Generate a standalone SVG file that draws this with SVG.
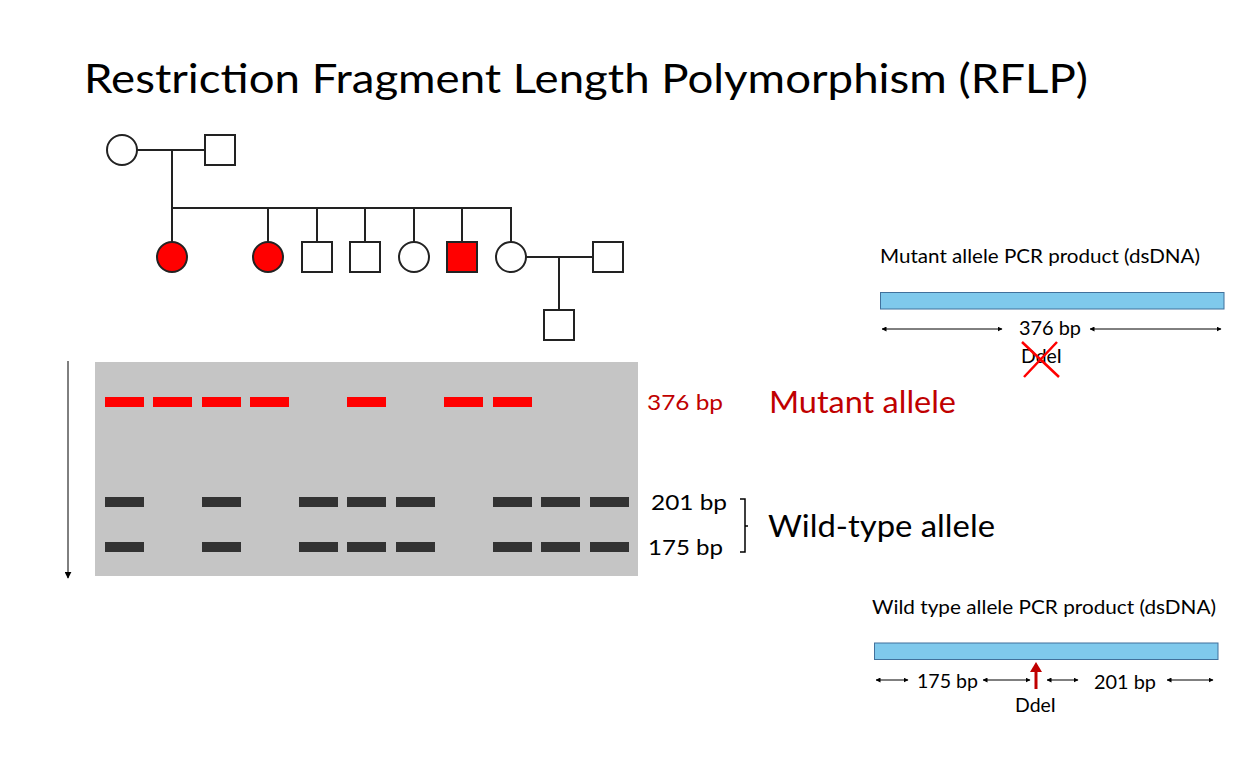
<svg xmlns="http://www.w3.org/2000/svg" width="1236" height="783" viewBox="0 0 1236 783">
<defs>
<style>
.ped{fill:#fff;stroke:#222;stroke-width:2}
.aff{fill:#ff0000;stroke:#222;stroke-width:2}
.ln{stroke:#222;stroke-width:2;fill:none}
.rb{fill:#ff0000}
.db{fill:#333}
.bar{fill:#7fc9ec;stroke:#41719c;stroke-width:1}
.av{font-family:Lato,"Open Sans",sans-serif}
.cb{font-family:Lato,"Liberation Sans",sans-serif;font-size:19px;fill:#000}
.dim{stroke:#000;stroke-width:1;fill:none;marker-start:url(#ah);marker-end:url(#ah)}
</style>
<marker id="ah" viewBox="0 0 10 10" refX="9" refY="5" markerWidth="5" markerHeight="5" orient="auto-start-reverse" markerUnits="userSpaceOnUse"><path d="M0,0 L10,5 L0,10 z" fill="#000"/></marker>
<marker id="gelArrow" viewBox="0 0 10 10" refX="9" refY="5" markerWidth="7" markerHeight="7" orient="auto" markerUnits="userSpaceOnUse"><path d="M0,0 L10,5 L0,10 z" fill="#000"/></marker>
</defs>
<rect width="1236" height="783" fill="#fff"/>
<text id="title" class="av" x="84" y="93" font-size="40" textLength="1004" lengthAdjust="spacingAndGlyphs" fill="#000">Restriction Fragment Length Polymorphism (RFLP)</text>

<g id="connectors">
<line class="ln" x1="137" y1="150" x2="205" y2="150"/>
<line class="ln" x1="172" y1="150" x2="172" y2="208"/>
<line class="ln" x1="171" y1="208" x2="512" y2="208"/>
<line class="ln" x1="172" y1="208" x2="172" y2="242"/>
<line class="ln" x1="268" y1="208" x2="268" y2="242"/>
<line class="ln" x1="317" y1="208" x2="317" y2="242"/>
<line class="ln" x1="365" y1="208" x2="365" y2="242"/>
<line class="ln" x1="414" y1="208" x2="414" y2="242"/>
<line class="ln" x1="462" y1="208" x2="462" y2="242"/>
<line class="ln" x1="511" y1="208" x2="511" y2="242"/>
<line class="ln" x1="526" y1="257" x2="593" y2="257"/>
<line class="ln" x1="559" y1="257" x2="559" y2="310"/>
</g>

<g id="p-gm"><circle class="ped" cx="122" cy="150" r="15"/></g>
<g id="p-gf"><rect class="ped" x="205" y="135" width="30" height="30"/></g>
<g id="p-c1"><circle class="aff" cx="172" cy="257" r="15"/></g>
<g id="p-c2"><circle class="aff" cx="268" cy="257" r="15"/></g>
<g id="p-c3"><rect class="ped" x="302" y="242" width="30" height="30"/></g>
<g id="p-c4"><rect class="ped" x="350" y="242" width="30" height="30"/></g>
<g id="p-c5"><circle class="ped" cx="414" cy="257" r="15"/></g>
<g id="p-c6"><rect class="aff" x="447" y="242" width="30" height="30"/></g>
<g id="p-c7"><circle class="ped" cx="511" cy="257" r="15"/></g>
<g id="p-sp"><rect class="ped" x="593" y="242" width="30" height="30"/></g>
<g id="p-gc"><rect class="ped" x="544" y="310" width="30" height="30"/></g>

<g id="gel">
<rect x="95" y="362" width="543" height="214" fill="#c5c5c5"/>
<g class="rb">
<rect x="105" y="397" width="39" height="10"/>
<rect x="153" y="397" width="39" height="10"/>
<rect x="202" y="397" width="39" height="10"/>
<rect x="250" y="397" width="39" height="10"/>
<rect x="347" y="397" width="39" height="10"/>
<rect x="444" y="397" width="39" height="10"/>
<rect x="493" y="397" width="39" height="10"/>
</g>
<g class="db">
<rect x="105" y="497" width="39" height="10"/>
<rect x="202" y="497" width="39" height="10"/>
<rect x="299" y="497" width="39" height="10"/>
<rect x="347" y="497" width="39" height="10"/>
<rect x="396" y="497" width="39" height="10"/>
<rect x="493" y="497" width="39" height="10"/>
<rect x="541" y="497" width="39" height="10"/>
<rect x="590" y="497" width="39" height="10"/>
<rect x="105" y="542" width="39" height="10"/>
<rect x="202" y="542" width="39" height="10"/>
<rect x="299" y="542" width="39" height="10"/>
<rect x="347" y="542" width="39" height="10"/>
<rect x="396" y="542" width="39" height="10"/>
<rect x="493" y="542" width="39" height="10"/>
<rect x="541" y="542" width="39" height="10"/>
<rect x="590" y="542" width="39" height="10"/>
</g>
<line x1="68" y1="361" x2="68" y2="578" stroke="#000" stroke-width="1" marker-end="url(#gelArrow)"/>
</g>

<g id="gel-labels" class="av">
<text x="647" y="410" font-size="22" fill="#c00000" textLength="76" lengthAdjust="spacingAndGlyphs">376 bp</text>
<text x="769" y="413" font-size="30" fill="#c00000" textLength="187" lengthAdjust="spacingAndGlyphs">Mutant allele</text>
<text x="651" y="510" font-size="22" fill="#000" textLength="76" lengthAdjust="spacingAndGlyphs">201 bp</text>
<text x="648" y="555" font-size="22" fill="#000" textLength="75" lengthAdjust="spacingAndGlyphs">175 bp</text>
<path d="M740,499 H745 V552 H740 M745,526 H748" stroke="#000" stroke-width="1.5" fill="none"/>
<text x="768" y="537" font-size="30" fill="#000" textLength="227" lengthAdjust="spacingAndGlyphs">Wild-type allele</text>
</g>

<g id="mutant-product">
<text class="cb" x="880" y="263" textLength="320" lengthAdjust="spacingAndGlyphs">Mutant allele PCR product (dsDNA)</text>
<rect class="bar" x="880.5" y="292.5" width="343.5" height="16.5"/>
<line class="dim" x1="882" y1="329" x2="1002" y2="329"/>
<line class="dim" x1="1090" y1="329" x2="1221" y2="329"/>
<text class="cb" x="1019" y="335" textLength="62" lengthAdjust="spacingAndGlyphs">376 bp</text>
<text class="cb" x="1021" y="363" textLength="41" lengthAdjust="spacingAndGlyphs">DdeI</text>
<path d="M1022,342 L1059,377 M1057,342 L1024,377" stroke="#ff0000" stroke-width="2.5" fill="none"/>
</g>

<g id="wildtype-product">
<text class="cb" x="872" y="614" textLength="344" lengthAdjust="spacingAndGlyphs">Wild type allele PCR product (dsDNA)</text>
<rect class="bar" x="874.5" y="643" width="343.5" height="16.5"/>
<line class="dim" x1="876" y1="680" x2="908" y2="680"/>
<text class="cb" x="917" y="688" textLength="61" lengthAdjust="spacingAndGlyphs">175 bp</text>
<line class="dim" x1="983" y1="680" x2="1030" y2="680"/>
<path d="M1036,689 V670" stroke="#c00000" stroke-width="3" fill="none"/>
<path d="M1030,672 L1036,662 L1042,672 z" fill="#c00000"/>
<line class="dim" x1="1047" y1="680" x2="1078" y2="680"/>
<text class="cb" x="1094" y="689" textLength="62" lengthAdjust="spacingAndGlyphs">201 bp</text>
<line class="dim" x1="1167" y1="680" x2="1213" y2="680"/>
<text class="cb" x="1015" y="712" textLength="41" lengthAdjust="spacingAndGlyphs">DdeI</text>
</g>
</svg>
